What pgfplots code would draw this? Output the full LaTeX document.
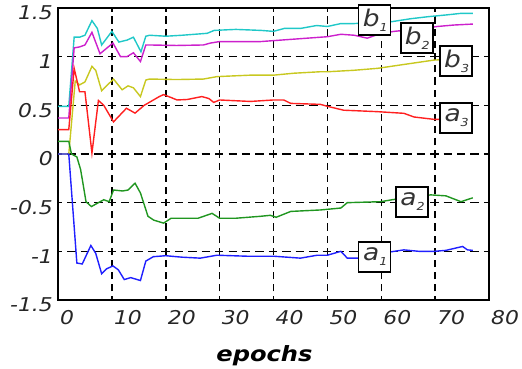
\documentclass[border=0pt]{standalone}
\usepackage{fontspec}
\setmainfont{DejaVu Sans}[FakeStretch=1.15]
\usepackage{pgfplots}
\pgfplotsset{compat=1.18}
\definecolor{cB1}{RGB}{32,200,200}
\definecolor{cB2}{RGB}{204,32,204}
\definecolor{cB3}{RGB}{200,200,32}
\definecolor{cA3}{RGB}{255,32,32}
\definecolor{cA2}{RGB}{32,150,32}
\definecolor{cA1}{RGB}{32,32,255}
\newcommand{\lab}[2]{\hspace*{1pt}{\fontsize{23}{23}\selectfont\itshape #1}\raisebox{-5pt}{\fontsize{11}{11}\selectfont\itshape #2}}
\begin{document}
\begin{tikzpicture}
\begin{axis}[
  scale only axis, width=431pt, height=292pt,
  xmin=0, xmax=80, ymin=-1.5, ymax=1.5,
  xtick={0,10,...,80}, ytick={-1.5,-1,...,1.5},
  xticklabels={0,10,20,30,40,50,60,70,80},
  yticklabels={-1.5,-1,-0.5,0,0.5,1,1.5},
  major tick length=0pt,
  axis line style={line width=1.6pt},
  grid=major,
  x grid style={black, line width=1.5pt, dash pattern=on 7.2pt off 4.97pt, dash phase=3.6pt},
  y grid style={black, line width=1.5pt, dash pattern=on 8.4pt off 5.04pt, dash phase=4.2pt},
  tick label style={font=\fontsize{19}{19}\selectfont\itshape, text=black!85, inner sep=0pt},
  xticklabel style={anchor=north west, xshift=2pt, yshift=-10pt},
  yticklabel style={anchor=east, xshift=-5pt, yshift=-5pt},
  xlabel={epochs},
  xlabel style={at={(axis description cs:0.479,0)}, anchor=base, yshift=-61pt, inner sep=0pt, font=\fontsize{21}{21}\selectfont\bfseries\itshape},
  clip=false,
  every axis plot/.append style={line width=1.4pt},
]
% b1 cyan
\addplot[cB1] coordinates {(0,0.49) (2,0.49) (3,1.2) (4,1.2) (5,1.22) (6.3,1.37) (7.3,1.29) (8.1,1.12) (10,1.26) (11.3,1.15) (12.8,1.17) (14,1.2) (15.4,1.05) (16.3,1.21) (17,1.22) (20,1.21) (23,1.22) (27.7,1.24) (29,1.27) (33,1.28) (37.6,1.27) (40,1.26) (42,1.29) (45,1.29) (48,1.32) (50,1.31) (52.5,1.34) (55,1.34) (58,1.35) (62,1.36) (65.5,1.39) (68.6,1.41) (72.3,1.43) (74.8,1.445) (77,1.445)};
% b2 magenta
\addplot[cB2] coordinates {(0,0.37) (2,0.37) (3,1.09) (4,1.1) (5,1.12) (6.3,1.25) (7.8,1.03) (10.2,1.14) (11.6,1.0) (12.8,1.0) (14,1.04) (15.3,0.95) (16.3,1.12) (17,1.12) (22,1.115) (27,1.12) (28.3,1.14) (30,1.155) (37.6,1.155) (43.8,1.18) (50,1.205) (52.5,1.23) (55,1.22) (57.4,1.19) (60,1.24) (62.4,1.26) (66,1.28) (70.4,1.31) (73.5,1.325) (77,1.335)};
% b3 yellow
\addplot[cB3] coordinates {(0,0.0) (2,0.0) (3.2,0.75) (4,0.71) (5,0.74) (6.3,0.9) (7,0.86) (8.1,0.65) (10.3,0.77) (11.9,0.66) (13,0.7) (14,0.68) (15.3,0.59) (16.3,0.76) (17,0.77) (22,0.765) (27,0.77) (29.5,0.795) (35.7,0.81) (40,0.81) (43.8,0.83) (48.7,0.845) (50,0.845) (54.9,0.86) (59.3,0.88) (63.6,0.915) (69.8,0.965) (77,0.98)};
% a3 red
\addplot[cA3] coordinates {(0,0.25) (2,0.25) (3,0.88) (4,0.64) (5,0.64) (6.3,0.01) (7.5,0.55) (8.5,0.5) (10.3,0.33) (11.5,0.4) (12.7,0.47) (14.3,0.42) (16,0.5) (18.8,0.59) (19.6,0.61) (21,0.58) (22.1,0.555) (24,0.56) (26.7,0.59) (28,0.57) (28.9,0.53) (30,0.555) (35.7,0.54) (40,0.555) (41.9,0.555) (43.2,0.52) (48.7,0.51) (50,0.49) (53,0.45) (59.3,0.435) (64.2,0.418) (66.1,0.38) (69.8,0.356) (77,0.35)};
% a2 green
\addplot[cA2] coordinates {(0,0.13) (2,0.13) (2.5,0.0) (3.5,-0.03) (4.2,-0.16) (5.2,-0.49) (6.2,-0.54) (7.5,-0.5) (8.5,-0.47) (9.5,-0.49) (10.3,-0.37) (12,-0.38) (13,-0.37) (14.3,-0.30) (15.3,-0.4) (16.7,-0.64) (17.8,-0.68) (19.6,-0.71) (21,-0.66) (23,-0.66) (26,-0.66) (28.6,-0.61) (30,-0.66) (33,-0.66) (37.6,-0.64) (39.4,-0.63) (40.5,-0.65) (43.2,-0.59) (48.7,-0.575) (52.5,-0.555) (53.7,-0.5) (59.9,-0.49) (62,-0.47) (66,-0.44) (69.2,-0.42) (72,-0.43) (74.8,-0.49) (77,-0.45)};
% a1 blue
\addplot[cA1] coordinates {(0,0.0) (2,0.0) (3.5,-1.12) (4.5,-1.13) (6.1,-0.94) (7,-1.02) (8.1,-1.23) (9,-1.18) (10.2,-1.15) (11.2,-1.19) (12.3,-1.29) (13.5,-1.27) (15.3,-1.30) (16.3,-1.1) (17.7,-1.055) (20,-1.045) (23,-1.06) (26.4,-1.07) (29.5,-1.04) (35,-1.05) (40,-1.05) (45,-1.07) (48.1,-1.04) (50,-1.04) (52.5,-1.0) (53.7,-1.07) (57,-1.07) (60,-1.02) (62.4,-1.0) (64.2,-0.985) (67,-1.0) (69.8,-1.0) (72,-0.99) (75.1,-0.95) (76,-0.985) (77,-0.99)};
\tikzset{lbox/.style={draw=black, line width=1.4pt, fill=white, minimum width=32pt, minimum height=30pt, inner sep=0pt, text=black!80}}
\node[lbox] at (axis cs:58.8,1.377) {\lab{b}{1}};
\node[lbox] at (axis cs:66.6,1.19) {\lab{b}{2}};
\node[lbox] at (axis cs:73.9,0.955) {\lab{b}{3}};
\node[lbox] at (axis cs:73.9,0.37) {\lab{a}{3}};
\node[lbox] at (axis cs:65.7,-0.493) {\lab{a}{2}};
\node[lbox] at (axis cs:58.8,-1.058) {\lab{a}{1}};
\end{axis}
\path ([shift={(-58pt,-68pt)}]current axis.south west) rectangle ([shift={(33pt,8pt)}]current axis.north east);
\end{tikzpicture}
\end{document}
